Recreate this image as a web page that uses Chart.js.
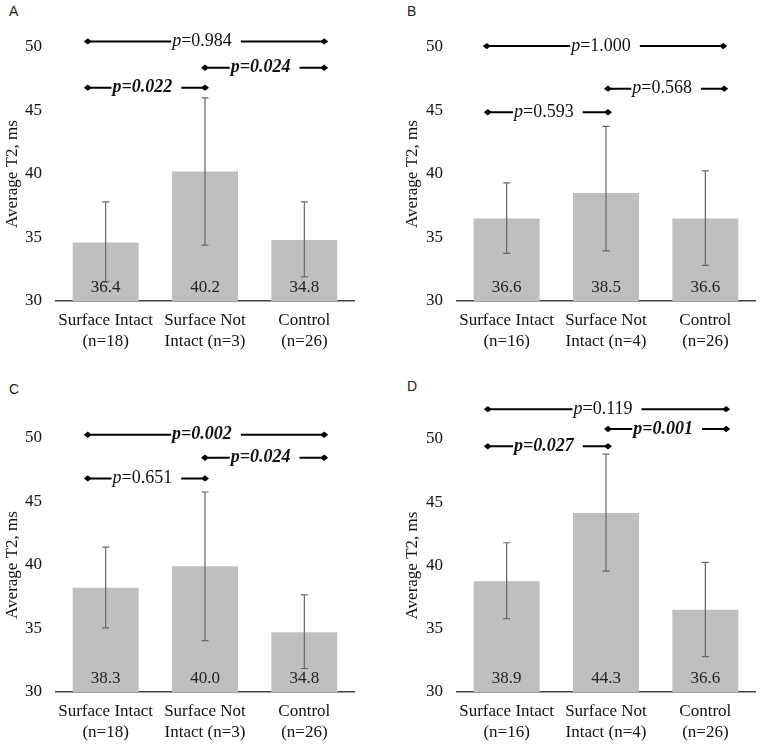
<!DOCTYPE html>
<html>
<head>
<meta charset="utf-8">
<script src="https://cdn.jsdelivr.net/npm/chart.js@4.4.0/dist/chart.umd.min.js"></script>
<style>
    body { margin: 0; background: #fff; }
    #grid { display: grid; grid-template-columns: 380px 380px; grid-template-rows: 375px 375px; width: 760px; }
    .panel { position: relative; width: 380px; height: 375px; }
    .panel canvas { position: absolute; left: 0; top: 0; }
    .letter { position: absolute; font-family: 'Liberation Sans', Arial, sans-serif; font-size: 14px; color: #222; }
</style>
</head>
<body>
<div id="grid">
    <div class="panel"><div class="letter" style="left:9px;top:3px">A</div><canvas id="chartA" width="380" height="375"></canvas></div>
    <div class="panel"><div class="letter" style="left:27px;top:3px">B</div><canvas id="chartB" width="380" height="375"></canvas></div>
    <div class="panel"><div class="letter" style="left:9px;top:6px">C</div><canvas id="chartC" width="380" height="375"></canvas></div>
    <div class="panel"><div class="letter" style="left:27px;top:3px">D</div><canvas id="chartD" width="380" height="375"></canvas></div>
</div>
<script>
// categories
const categoriesAC = [['Surface Intact', '(n=18)'], ['Surface Not', 'Intact (n=3)'], ['Control', '(n=26)']];
const categoriesBD = [['Surface Intact', '(n=16)'], ['Surface Not', 'Intact (n=4)'], ['Control', '(n=26)']];

// panel A
const barsA = [34.6, 40.2, 34.8];
const barLabelsA = ['36.4', '40.2', '34.8'];
const errLowA = [31.5, 34.4, 31.9];
const errHighA = [37.8, 46.0, 37.8];
const pFromA = [-0.18, 1, -0.18];
const pToA = [2.2, 2.2, 1];
const pLevelA = [50.44, 48.37, 46.8];
const pTextA = ['0.984', '0.024', '0.022'];
const pBoldA = [false, true, true];

// panel B
const barsB = [36.5, 38.5, 36.5];
const barLabelsB = ['36.6', '38.5', '36.6'];
const errLowB = [33.75, 33.95, 32.8];
const errHighB = [39.3, 43.75, 40.25];
const pFromB = [-0.2, 1.02, -0.19];
const pToB = [2.18, 2.19, 1.02];
const pLevelB = [50.07, 46.72, 44.86];
const pTextB = ['1.000', '0.568', '0.593'];
const pBoldB = [false, false, false];

// panel C
const barsC = [38.2, 39.9, 34.7];
const barLabelsC = ['38.3', '40.0', '34.8'];
const errLowC = [35.05, 34.05, 31.85];
const errHighC = [41.4, 45.75, 37.65];
const pFromC = [-0.18, 1, -0.18];
const pToC = [2.2, 2.2, 1];
const pLevelC = [50.26, 48.45, 46.82];
const pTextC = ['0.002', '0.024', '0.651'];
const pBoldC = [true, true, false];

// panel D
const barsD = [38.75, 44.15, 36.5];
const barLabelsD = ['38.9', '44.3', '36.6'];
const errLowD = [35.8, 39.55, 32.8];
const errHighD = [41.8, 48.8, 40.25];
const pFromD = [-0.19, 1.02, -0.19];
const pToD = [2.21, 2.21, 1.02];
const pLevelD = [52.36, 50.79, 49.42];
const pTextD = ['0.119', '0.001', '0.027'];
const pBoldD = [false, true, true];

const serif = "'Liberation Serif', 'Times New Roman', serif";

// draws error bars, value labels and the p-value brackets
function makeOverlay(lo, hi, barLabels, pFrom, pTo, pLevel, pText, pBold) {
    return {
        id: 'overlay',
        afterDatasetsDraw(chart) {
            const { ctx, scales: { x, y } } = chart;
            ctx.save();

            // error bars
            ctx.strokeStyle = '#666';
            ctx.lineWidth = 1.2;
            lo.forEach((v, i) => {
                const px = x.getPixelForValue(i);
                const y1 = y.getPixelForValue(v);
                const y2 = y.getPixelForValue(hi[i]);
                ctx.beginPath();
                ctx.moveTo(px, y1); ctx.lineTo(px, y2);
                ctx.moveTo(px - 3.5, y1); ctx.lineTo(px + 3.5, y1);
                ctx.moveTo(px - 3.5, y2); ctx.lineTo(px + 3.5, y2);
                ctx.stroke();
            });

            // value labels at the foot of each bar
            ctx.fillStyle = '#222';
            ctx.font = '17px ' + serif;
            ctx.textAlign = 'center';
            ctx.textBaseline = 'middle';
            barLabels.forEach((t, i) => {
                ctx.fillText(t, x.getPixelForValue(i), y.bottom - 13.5);
            });

            // brackets
            ctx.textAlign = 'left';
            pLevel.forEach((lv, i) => {
                const x1 = x.getPixelForValue(pFrom[i]);
                const x2 = x.getPixelForValue(pTo[i]);
                const py = y.getPixelForValue(lv);
                const fontP = (pBold[i] ? 'italic bold ' : 'italic ') + '18px ' + serif;
                const fontRest = (pBold[i] ? 'italic bold ' : '') + '18px ' + serif;
                const rest = '=' + pText[i];
                ctx.font = fontP;
                const wP = ctx.measureText('p').width;
                ctx.font = fontRest;
                const wR = ctx.measureText(rest).width;
                const w = wP + wR;
                const tx = (x1 + x2) / 2 - (w + 10) / 2 + 1;

                ctx.strokeStyle = '#000';
                ctx.lineWidth = 2;
                ctx.beginPath();
                ctx.moveTo(x1, py); ctx.lineTo(tx - 1, py);
                ctx.moveTo(tx + w + 9, py); ctx.lineTo(x2, py);
                ctx.stroke();

                ctx.fillStyle = '#000';
                [x1, x2].forEach(dx => {
                    ctx.beginPath();
                    ctx.moveTo(dx - 4, py);
                    ctx.lineTo(dx, py - 3.2);
                    ctx.lineTo(dx + 4, py);
                    ctx.lineTo(dx, py + 3.2);
                    ctx.closePath();
                    ctx.fill();
                });

                ctx.fillStyle = '#111';
                ctx.font = fontP;
                ctx.fillText('p', tx, py);
                ctx.font = fontRest;
                ctx.fillText(rest, tx + wP, py);
            });
            ctx.restore();
        }
    };
}

function createPanel(id, categories, bars, overlay, box) {
    const ctx = document.getElementById(id).getContext('2d');
    new Chart(ctx, {
        type: 'bar',
        data: {
            labels: categories,
            datasets: [{
                data: bars,
                backgroundColor: '#bfbfbf',
                borderWidth: 0,
                barPercentage: 0.664,
                categoryPercentage: 1
            }]
        },
        options: {
            responsive: false,
            animation: false,
            layout: {
                padding: { left: box.padLeft, right: 380 - box.right, top: box.top, bottom: 0 }
            },
            plugins: {
                legend: { display: false },
                tooltip: { enabled: false }
            },
            scales: {
                x: {
                    grid: { display: false, drawTicks: false },
                    border: { display: true, color: '#444', width: 1.5 },
                    ticks: {
                        color: '#111',
                        padding: 10,
                        maxRotation: 0,
                        autoSkip: false,
                        font: { family: serif, size: 17, lineHeight: 1.18 }
                    },
                    afterFit: s => { s.height = 375 - box.bottom; }
                },
                y: {
                    min: 30,
                    max: 50,
                    grid: { display: false, drawTicks: false },
                    border: { display: false },
                    ticks: {
                        stepSize: 5,
                        padding: 14,
                        color: '#111',
                        font: { family: serif, size: 17 }
                    },
                    title: {
                        display: true,
                        text: 'Average T2, ms',
                        color: '#111',
                        padding: { top: 2, bottom: 0 },
                        font: { family: serif, size: 17 }
                    },
                    afterFit: s => { s.width = box.left - box.padLeft; }
                }
            }
        },
        plugins: [overlay]
    });
}

createPanel('chartA', categoriesAC, barsA,
    makeOverlay(errLowA, errHighA, barLabelsA, pFromA, pToA, pLevelA, pTextA, pBoldA),
    { padLeft: 0, left: 56, right: 354, top: 47, bottom: 301 });
createPanel('chartB', categoriesBD, barsB,
    makeOverlay(errLowB, errHighB, barLabelsB, pFromB, pToB, pLevelB, pTextB, pBoldB),
    { padLeft: 20, left: 77, right: 375, top: 47, bottom: 301 });
createPanel('chartC', categoriesAC, barsC,
    makeOverlay(errLowC, errHighC, barLabelsC, pFromC, pToC, pLevelC, pTextC, pBoldC),
    { padLeft: 0, left: 56, right: 354, top: 63, bottom: 317 });
createPanel('chartD', categoriesBD, barsD,
    makeOverlay(errLowD, errHighD, barLabelsD, pFromD, pToD, pLevelD, pTextD, pBoldD),
    { padLeft: 20, left: 77, right: 375, top: 64, bottom: 317 });
</script>
</body>
</html>
